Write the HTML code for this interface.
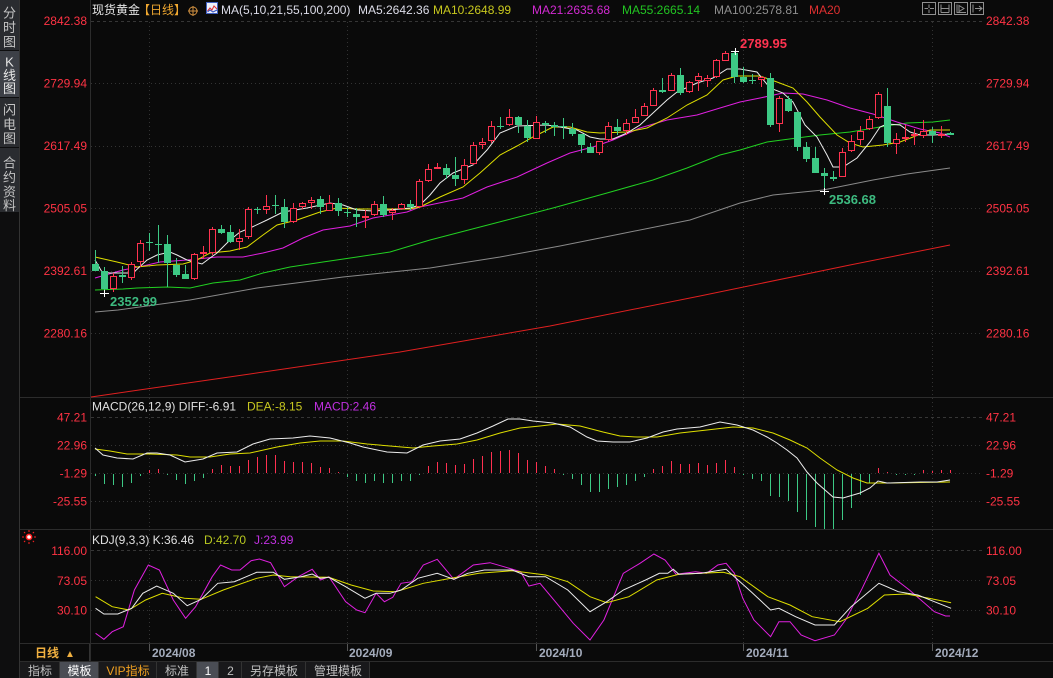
<!DOCTYPE html>
<html><head><meta charset="utf-8"><style>
html,body{margin:0;padding:0;background:#0a0a0a;width:1053px;height:678px;overflow:hidden}
svg{display:block}
text{font-family:"Liberation Sans","Noto Sans CJK SC",sans-serif}
</style></head><body>
<svg width="1053" height="678" viewBox="0 0 1053 678" xmlns="http://www.w3.org/2000/svg">
<rect width="1053" height="678" fill="#0a0a0a"/>

<!-- sidebar -->
<rect x="0" y="0" width="19" height="678" fill="#0e0e0f"/>
<rect x="0" y="0" width="19" height="50" fill="#2a2c30"/>
<rect x="0" y="51" width="19" height="46" fill="#3d4047"/>
<rect x="0" y="98" width="19" height="49" fill="#2a2c30"/>
<rect x="0" y="148" width="19" height="64" fill="#2a2c30"/>
<line x1="19.5" y1="0" x2="19.5" y2="678" stroke="#333"/>
<g font-size="13" fill="#c4c4c4" text-anchor="middle">
<text x="9.5" y="17.5">分</text><text x="9.5" y="32">时</text><text x="9.5" y="46.5">图</text>
<text x="9.5" y="66.5" fill="#e8e8e8">K</text><text x="9.5" y="80" fill="#e8e8e8">线</text><text x="9.5" y="93" fill="#e8e8e8">图</text>
<text x="9.5" y="114.5">闪</text><text x="9.5" y="129">电</text><text x="9.5" y="143">图</text>
<text x="9.5" y="167.5">合</text><text x="9.5" y="182">约</text><text x="9.5" y="196.5">资</text><text x="9.5" y="210">料</text>
</g>

<!-- frames -->
<g stroke="#2c2c2c" stroke-width="1">
<line x1="90.5" y1="0" x2="90.5" y2="662"/>
<line x1="20" y1="397.5" x2="1053" y2="397.5"/>
<line x1="20" y1="529.5" x2="1053" y2="529.5"/>
<line x1="20" y1="643.5" x2="1053" y2="643.5"/>
<line x1="20" y1="661.5" x2="1053" y2="661.5"/>
</g>

<!-- grid -->
<g stroke="#363636" stroke-width="1" stroke-dasharray="3 3">
<line x1="91" y1="21.5" x2="983" y2="21.5"/>
<line x1="91" y1="417.5" x2="983" y2="417.5"/>
<line x1="91" y1="550.5" x2="983" y2="550.5"/>
</g>
<g stroke="#333" stroke-width="1" stroke-dasharray="1 3">
<line x1="91" y1="83.5" x2="983" y2="83.5"/>
<line x1="91" y1="146.5" x2="983" y2="146.5"/>
<line x1="91" y1="208.5" x2="983" y2="208.5"/>
<line x1="91" y1="271.5" x2="983" y2="271.5"/>
<line x1="91" y1="333.5" x2="983" y2="333.5"/>
<line x1="91" y1="445.5" x2="983" y2="445.5"/>
<line x1="91" y1="473.5" x2="983" y2="473.5"/>
<line x1="91" y1="501.5" x2="983" y2="501.5"/>
<line x1="91" y1="580.5" x2="983" y2="580.5"/>
<line x1="91" y1="610.5" x2="983" y2="610.5"/>
<line x1="149.5" y1="22" x2="149.5" y2="643"/>
<line x1="347.5" y1="22" x2="347.5" y2="643"/>
<line x1="536.5" y1="22" x2="536.5" y2="643"/>
<line x1="743.5" y1="22" x2="743.5" y2="643"/>
<line x1="932.5" y1="22" x2="932.5" y2="643"/>
</g>

<!-- axis labels -->
<g font-size="12" fill="#ff3344">
<g text-anchor="end">
<text x="87" y="25">2842.38</text><text x="87" y="87.5">2729.94</text><text x="87" y="150">2617.49</text><text x="87" y="212.5">2505.05</text><text x="87" y="275">2392.61</text><text x="87" y="337.5">2280.16</text>
<text x="87" y="421.5">47.21</text><text x="87" y="449.5">22.96</text><text x="87" y="477.5">-1.29</text><text x="87" y="505.5">-25.55</text>
<text x="87" y="555">116.00</text><text x="87" y="585">73.05</text><text x="87" y="614.5">30.10</text>
</g>
<text x="986" y="25">2842.38</text><text x="986" y="87.5">2729.94</text><text x="986" y="150">2617.49</text><text x="986" y="212.5">2505.05</text><text x="986" y="275">2392.61</text><text x="986" y="337.5">2280.16</text>
<text x="986" y="421.5">47.21</text><text x="986" y="449.5">22.96</text><text x="986" y="477.5">-1.29</text><text x="986" y="505.5">-25.55</text>
<text x="986" y="555">116.00</text><text x="986" y="585">73.05</text><text x="986" y="614.5">30.10</text>
</g>

<!-- header -->
<g font-size="12">
<text x="92" y="14" fill="#e6e6e6">现货黄金</text>
<text x="138" y="14" fill="#f0a830">【日线】</text>
<text x="221" y="14" fill="#dcdce8">MA(5,10,21,55,100,200)</text>
<text x="358" y="14" fill="#dcdce8">MA5:2642.36</text>
<text x="433" y="14" fill="#c8c81e">MA10:2648.99</text>
<text x="532" y="14" fill="#d22ad2">MA21:2635.68</text>
<text x="622" y="14" fill="#22c422">MA55:2665.14</text>
<text x="714" y="14" fill="#8e8e8e">MA100:2578.81</text>
<text x="809" y="14" fill="#e03030">MA20</text>
</g>
<circle cx="193" cy="11" r="4" fill="none" stroke="#d09040"/>
<line x1="188" y1="11" x2="198" y2="11" stroke="#d09040"/><line x1="193" y1="6" x2="193" y2="16" stroke="#d09040"/>
<rect x="206.5" y="2.5" width="11" height="11" fill="#eef0fa" stroke="#4060c0"/>
<polyline points="207.5,11 210,8 212,10 214,6 217,9" fill="none" stroke="#e03030"/>
<polyline points="207.5,12 210,10 213,12 217,10" fill="none" stroke="#3050c0"/>
<g stroke="#909090" fill="none">
<rect x="922.5" y="2.5" width="13" height="12"/><rect x="938.5" y="2.5" width="13" height="12"/>
<rect x="954.5" y="2.5" width="13" height="12"/><rect x="970.5" y="2.5" width="13" height="12"/>
<path d="M929 4.5V8M929 9.5V13M924.5 8.5H928M930 8.5H934"/>
<path d="M941 4.5V12.5M949 4.5V12.5M941 8.5H949M941 12.5H949"/>
<path d="M957 4.5V12.5H966M959 5.5L964 8.5L959 11.5Z"/>
<path d="M973 4.5V12.5M975 8.5H982M979 6L982 8.5L979 11"/>
</g>

<!-- MA lines -->
<g fill="none" stroke-width="1">
<polyline stroke="#e02020" points="91,397 250,374 400,352 550,326 700,296 850,265 950,245"/>
<polyline stroke="#8a8a8a" points="95,312 118,310 190,300 257,288 343,277 430,268 500,257 560,246 620,234 690,220 740,203 773,195 823,190 873,180 907,174 950,168"/>
<polyline stroke="#22d022" points="95,290 123,289 137,288 167,287 190,288 213,283 240,280 263,273 290,267 323,262 357,257 390,252 430,240 507,220 553,208 607,193 653,180 687,168 720,155 740,150 767,142 797,138 820,135 850,132 880,127 907,123 933,122 950,120"/>
<polyline stroke="#e020e0" points="95,278 123,270 143,266 160,262 187,260 217,257 243,257 263,253 283,248 303,238 323,230 350,226 373,218 407,212 420,207 463,198 487,187 517,177 547,163 570,153 593,147 613,140 640,128 667,120 697,115 720,108 740,102 760,98 783,93 803,94 827,100 850,108 873,114 897,122 920,129 940,133 950,137"/>
<polyline stroke="#dede00" points="95,257 117,262 137,267 157,265 183,264 197,260 210,253 230,251 247,247 263,235 277,225 297,220 320,212 337,208 357,209 390,209 410,209 420,207 440,197 463,187 480,173 500,155 517,146 533,137 553,127 570,127 587,132 600,133 627,132 647,128 667,118 687,105 707,95 723,80 737,76 760,76 777,82 793,88 807,102 820,117 837,135 850,143 863,147 883,145 900,142 913,137 930,130 950,130"/>
<polyline stroke="#ececec" points="95,260 102,272 110,273 133,273 147,260 157,255 170,252 177,255 187,260 202,264 210,258 217,253 230,240 240,232 250,228 267,220 283,212 307,208 330,203 343,205 357,210 373,211 390,210 410,208 420,205 430,195 440,183 453,173 473,165 487,150 500,133 517,126 547,125 560,127 577,130 590,137 600,139 613,139 627,133 640,125 653,113 667,100 677,92 697,83 713,78 727,69 740,69 757,72 770,88 783,93 793,102 805,125 817,137 827,155 833,167 843,167 857,158 870,142 880,127 887,124 900,125 910,132 920,135 933,135 950,134"/>
</g>

<!-- candles green -->
<g stroke="#3dc985" fill="#3dc985" shape-rendering="crispEdges">
<path fill="none" d="M95.5 250V271M104.5 267V293M122.5 266V283M149.5 233V251M158.5 225V263M167.5 235V287M176.5 258V277M185.5 265V279M221.5 225V234M230.5 225V243M257.5 207V214M275.5 195V214M284.5 199V228M320.5 196V214M338.5 198V216M347.5 207V217M356.5 208V227M383.5 196V217M410.5 200V210M446.5 164V179M455.5 157V186M500.5 117V129M518.5 116V133M527.5 120V142M545.5 121V133M554.5 122V136M563.5 118V139M572.5 123V136M581.5 134V153M590.5 143V153M617.5 119V135M662.5 78V93M680.5 68V95M734.5 51V83M743.5 67V83M752.5 74V84M770.5 73V127M788.5 96V112M797.5 112V151M806.5 142V162M815.5 147V173M824.5 168V192M833.5 171V181M887.5 88V147M932.5 127V143M950.5 132V135"/>
<g stroke="none">
<rect x="92" y="264" width="7" height="7"/><rect x="101" y="271" width="7" height="18"/><rect x="119" y="275" width="7" height="2"/><rect x="146" y="242" width="7" height="1"/><rect x="155" y="244" width="7" height="1"/><rect x="164" y="244" width="7" height="19"/><rect x="173" y="265" width="7" height="10"/><rect x="182" y="274" width="7" height="5"/><rect x="218" y="229" width="7" height="4"/><rect x="227" y="232" width="7" height="10"/><rect x="254" y="209" width="7" height="1"/><rect x="272" y="205" width="7" height="1"/><rect x="281" y="207" width="7" height="15"/><rect x="317" y="199" width="7" height="8"/><rect x="335" y="203" width="7" height="8"/><rect x="344" y="212" width="7" height="1"/><rect x="353" y="214" width="7" height="3"/><rect x="380" y="204" width="7" height="11"/><rect x="407" y="204" width="7" height="3"/><rect x="443" y="168" width="7" height="7"/><rect x="452" y="175" width="7" height="4"/><rect x="497" y="126" width="7" height="1"/><rect x="515" y="117" width="7" height="8"/><rect x="524" y="126" width="7" height="12"/><rect x="542" y="123" width="7" height="2"/><rect x="551" y="125" width="7" height="2"/><rect x="560" y="126" width="7" height="1"/><rect x="569" y="129" width="7" height="5"/><rect x="578" y="134" width="7" height="11"/><rect x="587" y="147" width="7" height="6"/><rect x="614" y="127" width="7" height="4"/><rect x="659" y="90" width="7" height="2"/><rect x="677" y="75" width="7" height="18"/><rect x="731" y="53" width="7" height="24"/><rect x="740" y="77" width="7" height="5"/><rect x="749" y="80" width="7" height="1"/><rect x="767" y="78" width="7" height="47"/><rect x="785" y="99" width="7" height="12"/><rect x="794" y="112" width="7" height="35"/><rect x="803" y="147" width="7" height="12"/><rect x="812" y="158" width="7" height="15"/><rect x="821" y="173" width="7" height="3"/><rect x="830" y="177" width="7" height="2"/><rect x="884" y="106" width="7" height="37"/><rect x="929" y="131" width="7" height="4"/><rect x="947" y="133" width="7" height="2"/>
</g>
</g>

<!-- candles red -->
<g stroke="#ff3350" fill="#0a0a0a" shape-rendering="crispEdges">
<path fill="none" d="M113.5 273V292M131.5 262V280M140.5 240V267M194.5 253V280M203.5 246V259M212.5 227V255M239.5 229V250M248.5 207V239M266.5 195V214M293.5 203V223M302.5 202V209M311.5 197V209M329.5 195V211M365.5 210V228M374.5 201V216M392.5 208V220M401.5 203V210M419.5 179V208M428.5 164V182M437.5 163V169M464.5 159V184M473.5 142V165M482.5 138V149M491.5 121V143M509.5 109V126M536.5 116V139M599.5 141V155M608.5 122V141M626.5 119V135M635.5 109V123M644.5 103V116M653.5 88V106M671.5 73V91M689.5 81V93M698.5 73V91M707.5 75V87M716.5 59V78M725.5 51V61M761.5 76V87M779.5 96V132M842.5 148V177M851.5 135V152M860.5 126V145M869.5 116V130M878.5 92V119M896.5 133V154M905.5 125V142M914.5 129V145M923.5 120V138M941.5 126V138"/>
<rect x="110.5" y="276.5" width="6" height="12"/><rect x="128.5" y="264.5" width="6" height="13"/><rect x="137.5" y="243.5" width="6" height="18"/><rect x="191.5" y="254.5" width="6" height="24"/><rect x="200.5" y="252.5" width="6" height="1"/><rect x="209.5" y="229.5" width="6" height="23"/><rect x="236.5" y="238.5" width="6" height="3"/><rect x="245.5" y="209.5" width="6" height="27"/><rect x="263.5" y="206.5" width="6" height="3"/><rect x="290.5" y="208.5" width="6" height="13"/><rect x="299.5" y="203.5" width="6" height="3"/><rect x="308.5" y="200.5" width="6" height="2"/><rect x="326.5" y="203.5" width="6" height="7"/><rect x="362.5" y="216.5" width="6" height="1"/><rect x="371.5" y="204.5" width="6" height="10"/><rect x="389.5" y="210.5" width="6" height="2"/><rect x="398.5" y="204.5" width="6" height="4"/><rect x="416.5" y="181.5" width="6" height="25"/><rect x="425.5" y="169.5" width="6" height="11"/><rect x="434.5" y="167.5" width="6" height="1"/><rect x="461.5" y="165.5" width="6" height="14"/><rect x="470.5" y="145.5" width="6" height="18"/><rect x="479.5" y="142.5" width="6" height="2"/><rect x="488.5" y="126.5" width="6" height="14"/><rect x="506.5" y="117.5" width="6" height="7"/><rect x="533.5" y="122.5" width="6" height="16"/><rect x="596.5" y="141.5" width="6" height="11"/><rect x="605.5" y="126.5" width="6" height="13"/><rect x="623.5" y="123.5" width="6" height="7"/><rect x="632.5" y="117.5" width="6" height="5"/><rect x="641.5" y="106.5" width="6" height="9"/><rect x="650.5" y="90.5" width="6" height="15"/><rect x="668.5" y="75.5" width="6" height="15"/><rect x="686.5" y="82.5" width="6" height="9"/><rect x="695.5" y="76.5" width="6" height="4"/><rect x="704.5" y="78.5" width="6" height="2"/><rect x="713.5" y="60.5" width="6" height="16"/><rect x="722.5" y="53.5" width="6" height="7"/><rect x="758.5" y="77.5" width="6" height="2"/><rect x="776.5" y="98.5" width="6" height="25"/><rect x="839.5" y="152.5" width="6" height="24"/><rect x="848.5" y="141.5" width="6" height="9"/><rect x="857.5" y="131.5" width="6" height="8"/><rect x="866.5" y="119.5" width="6" height="9"/><rect x="875.5" y="94.5" width="6" height="23"/><rect x="893.5" y="139.5" width="6" height="4"/><rect x="902.5" y="137.5" width="6" height="1"/><rect x="911.5" y="134.5" width="6" height="1"/><rect x="920.5" y="131.5" width="6" height="4"/><rect x="938.5" y="134.5" width="6" height="1"/>
</g>

<!-- markers and annotations -->
<g stroke="#ffffff" stroke-width="1">
<path d="M731 51.5H739M735.5 48V55"/>
<path d="M820 191.5H829M824.5 188V195"/>
<path d="M100 293.5H109M104.5 290V297"/>
</g>
<g font-size="13" font-weight="bold">
<text x="740" y="48" fill="#ff3350">2789.95</text>
<text x="829" y="204" fill="#3dbb80">2536.68</text>
<text x="110" y="306" fill="#3dbb80">2352.99</text>
</g>

<!-- MACD -->
<g font-size="12">
<text x="92" y="410.5" fill="#e0e0e0">MACD(26,12,9) DIFF:-6.91</text>
<text x="247" y="410.5" fill="#c8c820">DEA:-8.15</text>
<text x="314" y="410.5" fill="#c030e0">MACD:2.46</text>
</g>
<g stroke-width="1" fill="none" shape-rendering="crispEdges">
<path stroke="#ff3050" d="M149.5 473V470M158.5 473V469M212.5 473V469M221.5 473V465M230.5 473V466M239.5 473V466M248.5 473V460M257.5 473V457M266.5 473V455M275.5 473V455M284.5 473V461M293.5 473V462M302.5 473V462M311.5 473V463M320.5 473V467M329.5 473V468M338.5 473V472M428.5 473V466M437.5 473V462M446.5 473V463M455.5 473V465M464.5 473V464M473.5 473V459M482.5 473V456M491.5 473V452M500.5 473V451M509.5 473V450M518.5 473V453M527.5 473V460M536.5 473V462M545.5 473V466M554.5 473V469M653.5 473V469M662.5 473V466M671.5 473V461M680.5 473V464M689.5 473V464M698.5 473V463M707.5 473V465M716.5 473V463M725.5 473V460M734.5 473V467M878.5 473V468M887.5 473V472M923.5 473V470M932.5 473V471M941.5 473V470M950.5 473V470"/>
<path stroke="#3dc985" d="M95.5 474V476M104.5 474V484M113.5 474V485M122.5 474V487M131.5 474V483M140.5 474V476M167.5 474V475M176.5 474V480M185.5 474V484M194.5 474V481M203.5 474V478M347.5 474V477M356.5 474V481M365.5 474V483M374.5 474V481M383.5 474V483M392.5 474V483M401.5 474V481M410.5 474V481M419.5 474V475M563.5 474V475M572.5 474V479M581.5 474V485M590.5 474V492M599.5 474V492M608.5 474V489M617.5 474V487M626.5 474V485M635.5 474V481M644.5 474V477M743.5 474V475M752.5 474V479M761.5 474V481M770.5 474V496M779.5 474V497M788.5 474V501M797.5 474V512M806.5 474V520M815.5 474V527M824.5 474V529M833.5 474V529M842.5 474V520M851.5 474V508M860.5 474V495M869.5 474V483M896.5 474V475M905.5 474V475M914.5 474V475"/>
</g>
<g fill="none" stroke-width="1">
<polyline stroke="#dede00" points="95,449 110,451 127,454 150,454 177,455 190,457 210,457 230,454 250,453 277,447 300,443 320,441 343,441 367,444 390,446 413,448 433,446 457,444 477,440 500,433 520,428 540,426 557,424 580,426 603,432 620,436 637,437 657,437 680,433 707,430 733,427 753,428 773,433 790,440 807,448 820,458 837,470 853,478 867,483 887,483 950,482"/>
<polyline stroke="#ececec" points="95,448 103,455 117,458 133,459 147,453 157,453 170,455 185,462 203,459 217,453 237,452 253,444 270,439 293,438 310,436 330,438 350,443 363,447 387,452 407,453 423,445 440,441 460,439 477,433 493,426 508,419 520,419 533,421 553,423 570,427 587,437 597,441 613,442 630,442 647,438 663,432 677,429 700,427 720,422 737,425 753,430 767,437 777,443 787,450 797,458 807,472 817,483 833,497 843,498 860,493 870,488 878,481 887,483 920,482 937,482 950,480"/>
</g>

<!-- KDJ -->
<g transform="translate(29,537)">
<circle r="2.6" fill="#ffffff" stroke="#ff2020" stroke-width="1.6"/>
<path d="M0 -7V-5M0 5V7M-7 0H-5M5 0H7M-5 -5L-3.8 -3.8M5 5L3.8 3.8M-5 5L-3.8 3.8M5 -5L3.8 -3.8" stroke="#ff2020" stroke-width="1"/>
</g>
<g font-size="12">
<text x="92" y="544" fill="#e0e0e0">KDJ(9,3,3) K:36.46</text>
<text x="204" y="544" fill="#b8c820">D:42.70</text>
<text x="254" y="544" fill="#c030e0">J:23.99</text>
</g>
<g fill="none" stroke-width="1">
<polyline stroke="#e020e0" points="95.6,633.3 103.9,639.3 112.2,631.7 123.3,626.7 134.4,590 148.3,565 159.4,570 173.3,600 185.6,618.3 195.6,606.7 212.2,576.7 220.6,565 231.7,570 240,570 251.1,560.7 259.4,559 270.6,562.7 284.4,586.7 298.3,576.7 312.2,569.3 320.6,580 328.9,576.7 345.6,601.7 356.7,610 365,612.7 376.1,593.3 384.4,601.7 392.8,597.3 401.1,583.3 412.2,581.7 423.3,565 437.2,559.3 453.9,579.3 473.3,565 490,562.7 503.9,566.7 520.6,571.7 528.9,586 540,583.3 556.7,603.3 573.3,623.3 590,640 603.9,620 623.3,573.3 640,563.3 653.9,554 665,560 676.1,574.3 695.6,571.7 706.7,573.3 717.8,565 726.1,563.3 734.4,573.3 742.8,598.3 753.9,620 770.6,636.7 778.9,621.7 790,621.7 801.1,635 815,640.7 834.4,635 845.6,620 862.2,588.3 878.9,553.3 890,575 909.4,590 934.4,611.7 945.6,616 950,616"/>
<polyline stroke="#dede00" points="95.6,596.7 112.2,606.7 128.9,610 145.6,600 162.2,593.3 184.4,598.3 201.1,599.3 223.3,590 256.7,578.3 273.3,575 290,576.7 328.9,577.3 351.1,585 373.3,591 395.6,591.7 423.3,583.3 451.1,578.3 478.9,573.3 512.2,570.7 545.6,575 567.8,581.7 590,596.7 606.7,602.7 628.9,596.7 656.7,580 678.9,574.3 723.3,572.3 740,576.7 767.8,596.7 790,605 812.2,616.7 840,621.7 867.8,608.3 884.4,595 906.7,594 928.9,598.3 951.1,602.7"/>
<polyline stroke="#ececec" points="95.6,608.3 103.9,614 117.8,614 131.7,608.3 142.8,593.3 156.7,586 173.3,593.3 187.2,605.7 201.1,599.3 217.8,583.3 234.4,581.7 256.7,572.3 273.3,572.3 284.4,579.3 301.1,576.7 312.2,574 320.6,578.3 328.9,577.3 345.6,586.7 365,598.3 376.1,593.3 390,593.3 401.1,590 417.8,578.3 437.2,573.3 453.9,579.3 467.8,573.3 484.4,570 512.2,570 528.9,576.7 545.6,576.7 567.8,590 590,611.7 606.7,601.7 623.3,590 645.6,580 659.4,573.3 667.8,573.3 673.3,569.3 678.9,574.3 701.1,573.3 726.1,569.3 734.4,576.7 751.1,591.7 770.6,610 778.9,608.3 795.6,616.7 815,625 834.4,625 851.1,606.7 878.9,583.3 898.3,591.7 917.8,595 934.4,601.7 951.1,608.3"/>
</g>

<!-- date row -->
<line x1="89.5" y1="644" x2="89.5" y2="661" stroke="#333"/>
<g stroke="#555">
<line x1="149.5" y1="644" x2="149.5" y2="651"/><line x1="347.5" y1="644" x2="347.5" y2="651"/><line x1="536.5" y1="644" x2="536.5" y2="651"/><line x1="743.5" y1="644" x2="743.5" y2="651"/><line x1="932.5" y1="644" x2="932.5" y2="651"/>
</g>
<text x="35" y="657" font-size="12" font-weight="bold" fill="#f0b040">日线</text>
<text x="65" y="657" font-size="10" fill="#f0b040">▲</text>
<g font-size="12" font-weight="bold" fill="#a4acbc">
<text x="152" y="657">2024/08</text><text x="349" y="657">2024/09</text><text x="539" y="657">2024/10</text><text x="746" y="657">2024/11</text><text x="935" y="657">2024/12</text>
</g>

<!-- bottom tabs -->
<rect x="20" y="662" width="1033" height="16" fill="#0c0c0c"/>
<rect x="20" y="662" width="350" height="16" fill="#19191b"/>
<rect x="60" y="662" width="39" height="16" fill="#4a4d54"/>
<rect x="197" y="662" width="22" height="16" fill="#4a4d54"/>
<g stroke="#333">
<line x1="59.5" y1="662" x2="59.5" y2="678"/><line x1="98.5" y1="662" x2="98.5" y2="678"/><line x1="156.5" y1="662" x2="156.5" y2="678"/><line x1="196.5" y1="662" x2="196.5" y2="678"/><line x1="218.5" y1="662" x2="218.5" y2="678"/><line x1="241.5" y1="662" x2="241.5" y2="678"/><line x1="305.5" y1="662" x2="305.5" y2="678"/><line x1="369.5" y1="662" x2="369.5" y2="678"/>
</g>
<g font-size="12" fill="#c0c0c0" text-anchor="middle">
<text x="40" y="675">指标</text>
<text x="79.5" y="675" fill="#ffffff">模板</text>
<text x="128" y="675" fill="#f0a020">VIP指标</text>
<text x="177" y="675">标准</text>
<text x="208" y="675" fill="#ffffff">1</text>
<text x="230.5" y="675">2</text>
<text x="274" y="675">另存模板</text>
<text x="338" y="675">管理模板</text>
</g>
</svg>
</body></html>
